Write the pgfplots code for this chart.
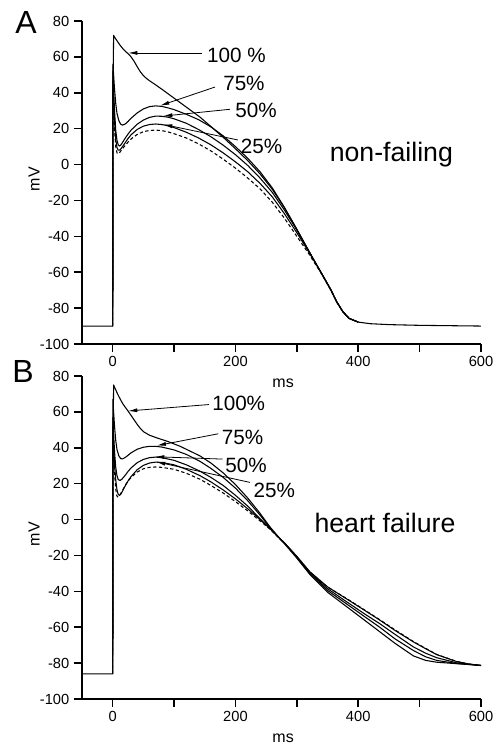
\documentclass[border=0pt]{standalone}
\usepackage{fontspec}
\setmainfont{Liberation Sans}
\usepackage{pgfplots}
\pgfplotsset{compat=1.18}
\usetikzlibrary{arrows.meta}

\pgfplotsset{
 apstyle/.style={
  scale only axis, width=299.25pt, height=242.25pt,
  xmin=-50, xmax=600, ymin=-100, ymax=80,
  axis x line*=bottom, axis y line*=left,
  axis line style={line width=1.1pt},
  tick align=outside, major tick length=6pt,
  every tick/.style={line width=1.1pt, black},
  xtick={0,100,...,600}, xticklabels={0,,200,,400,,600},
  ytick={-100,-80,...,80},
  tick label style={font=\fontsize{11}{13}\selectfont},
  /pgf/number format/assume math mode=true,
  xlabel={ms}, ylabel={mV},
  label style={font=\fontsize{12}{14}\selectfont},
  xlabel style={at={(axis description cs:0.504,-0.121)}, anchor=center},
  ylabel style={at={(axis description cs:-0.120,0.51)}, anchor=center},
  clip=false,
 },
}
\tikzset{
 cur/.style={black, line width=0.8pt, line join=round},
 lab/.style={font=\fontsize{15.5}{18}\selectfont, anchor=west, inner sep=0pt},
 arr/.style={-{Latex[length=7pt,width=3pt]}, line width=0.6pt},
 dsh/.style={cur, dash pattern=on 2.5pt off 1.8pt},
}

\begin{document}
\begin{tikzpicture}
\useasboundingbox (0,0) rectangle (375pt,558pt);

% ---------------- Panel A: non-failing ----------------
\begin{axis}[apstyle, at={(61.5pt,300pt)}, anchor=south west]
% 100 %
\addplot[cur] coordinates {(-50,-90)(0,-90)(0.5,40)(1.5,72)(4,70.5)(8,68.5)(12,66.5)(16,64.8)(20,63.3)(25,61.8)(30,60)(35,57.5)(40,54.5)(45,51.7)(50,49.6)(55,48)(60,46.7)(70,44.4)(80,42)(100,37)(120,32)(142,26.5)(160,21.2)(180,15.2)(200,8.8)(220,2.2)(240,-5.2)(260,-13.8)(280,-24.2)(300,-36.2)(320,-48.5)(340,-60.5)(355,-69.5)(365,-76.5)(375,-82)(385,-85.7)(400,-87.8)(420,-88.7)(450,-89.2)(500,-89.6)(600,-90)};
% 75 %
\addplot[cur] coordinates {(0,-90)(0.3,56)(1.5,50)(3,42)(5,34)(7,28.5)(10,24.5)(13,22.5)(16,22)(20,22.5)(25,24)(30,25.8)(40,28.8)(50,31)(60,32.3)(70,32.7)(80,32.4)(90,31.6)(100,30.6)(120,28)(140,25)(160,21)(180,16)(200,10)(220,3.5)(240,-4)(260,-13)(280,-24)(300,-36)(320,-48.5)(340,-60.5)(355,-69.5)(365,-76.5)(375,-82)(385,-85.7)(400,-87.8)};
% 50 %
\addplot[cur] coordinates {(0,-90)(0.3,52)(1.5,42)(3,30)(5,19)(7,13.5)(9,11)(11,10.3)(13,10.8)(16,12.3)(20,14.5)(25,17)(30,19.2)(40,22.5)(50,24.8)(60,26.3)(70,27)(80,26.9)(90,26.4)(100,25.5)(120,23)(140,19.5)(160,15.5)(180,10.8)(200,5.5)(220,-0.5)(240,-7.5)(260,-15.5)(280,-25.5)(300,-36.5)(320,-48.5)(340,-60.5)(355,-69.5)(365,-76.5)(375,-82)(385,-85.7)(400,-87.8)};
% 25 %
\addplot[cur] coordinates {(0,-90)(0.3,47)(1.5,37)(3,25)(5,14)(7,9.5)(9,8)(11,8)(13,8.6)(16,10)(20,12)(25,14.5)(30,16.6)(40,19.6)(50,21.4)(60,22.3)(70,22.6)(80,22.3)(90,21.6)(100,20.6)(120,18)(140,14.8)(160,11)(180,6.5)(200,1.5)(220,-4)(240,-10.5)(260,-18)(280,-27.5)(300,-38)(320,-49)(340,-60.5)(355,-69.5)(365,-76.5)(375,-82)(385,-85.7)(400,-87.8)};
% control (dashed)
\addplot[dsh] coordinates {(0,-90)(0.3,42)(1.5,32)(3,20)(5,10)(7,6.5)(9,6)(11,6.5)(14,8)(20,10.5)(25,12.5)(30,14.3)(40,16.8)(50,18.3)(60,19)(70,19.2)(80,18.9)(90,18.2)(100,17.2)(120,14.8)(140,11.5)(160,7.6)(180,3)(200,-2)(220,-7.5)(240,-13.5)(260,-21)(280,-30)(300,-40)(320,-50)(340,-60.8)(355,-69.8)(365,-76.7)(375,-82)(385,-85.7)(400,-87.8)};
\draw[arr] (axis cs:145.5,62.2) -- (axis cs:25,62.2);
\node[lab] at (axis cs:153.6,61) {100 \%};
\draw[arr] (axis cs:166.7,43.2) -- (axis cs:77,32.8);
\node[lab] at (axis cs:179.7,45.4) {75\%};
\draw[arr] (axis cs:191,30.8) -- (axis cs:82,27);
\node[lab] at (axis cs:199.3,30) {50\%};
\draw[arr] (axis cs:204,13.7) -- (axis cs:82,22.4);
\node[lab] at (axis cs:208.5,10.3) {25\%};
\node[font=\fontsize{20}{24}\selectfont] at (axis cs:454,5.3) {non-failing};
\node[font=\fontsize{24}{28}\selectfont] at (axis cs:-141,79.4) {A};
\end{axis}

% ---------------- Panel B: heart failure ----------------
\begin{axis}[apstyle, at={(61.5pt,33.75pt)}, anchor=south west]
% 100 %
\addplot[cur] coordinates {(-50,-86)(0,-86)(0.5,40)(1.5,75)(4,73)(8,70)(12,67.3)(16,64.8)(20,62.8)(25,60.5)(30,58)(35,55.5)(40,53)(45,50.8)(50,49)(60,47)(72,45.5)(90,43.5)(110,40.8)(130,37.5)(142,35.5)(160,31.5)(180,26)(200,19.5)(220,12)(240,3.5)(256,-4)(272,-10.5)(280,-13.5)(300,-21.5)(321,-30.5)(350,-40.5)(381,-48.5)(410,-56)(435,-62.5)(460,-69)(490,-76)(510,-78.5)(528,-79.5)(560,-80.3)(600,-81.3)};
% 75 %
\addplot[cur] coordinates {(0,-86)(0.3,67)(1.5,60)(3,52)(5,44)(7,39)(10,35.5)(13,34)(16,33.8)(20,34.5)(25,35.8)(30,37.2)(40,39.2)(50,40.3)(60,40.8)(70,40.8)(80,40.4)(100,38.8)(120,36.3)(142,32.5)(160,28.5)(180,23.5)(200,17.5)(220,10.5)(240,2.5)(256,-4.5)(272,-10.5)(280,-13.3)(300,-21)(321,-30)(350,-39.5)(381,-47)(410,-54)(435,-60)(460,-66.5)(490,-73)(510,-76.5)(528,-78.5)(560,-80.2)(600,-81.3)};
% 50 %
\addplot[cur] coordinates {(0,-86)(0.3,57)(1.5,48)(3,38)(5,29)(7,24.5)(9,22.3)(12,21.8)(15,22.5)(20,24.5)(25,26.8)(30,28.8)(40,31.7)(50,33.5)(60,34.5)(70,34.8)(80,34.5)(100,33)(120,30.5)(142,27)(160,23.5)(180,19)(200,13.5)(220,7.5)(240,0.5)(256,-5)(272,-10.5)(280,-13.2)(300,-20.8)(321,-29.5)(350,-38.5)(381,-45.8)(410,-52.5)(435,-58)(460,-64)(490,-71)(510,-74.5)(528,-77)(560,-79.8)(600,-81.3)};
% 25 %
\addplot[cur] coordinates {(0,-86)(0.3,52)(1.5,42)(3,31)(5,22)(7,16.5)(9,14)(11,13.5)(13,14)(16,15.8)(20,18.5)(25,21.5)(30,24)(40,27.8)(50,30.2)(60,31.5)(70,32)(80,31.8)(100,30.5)(120,28)(142,24.5)(160,21)(180,16.5)(200,11.5)(220,6)(240,0)(256,-5)(272,-10.5)(280,-13)(300,-20.5)(321,-29)(350,-37.5)(381,-44.2)(410,-50.5)(435,-56)(460,-61.8)(490,-68.2)(510,-72)(528,-75.3)(560,-79.1)(580,-80.5)(600,-81.3)};
% control (dashed)
\addplot[dsh] coordinates {(0,-86)(0.3,47)(1.5,37)(3,26)(5,17)(6.5,13.5)(8,12.6)(10,13)(13,14.5)(16,16.3)(20,18.8)(25,21.5)(30,23.5)(40,26.5)(50,28.3)(60,29.1)(70,29.3)(80,29.1)(100,28)(120,25.8)(142,22.5)(160,19)(180,14.8)(200,10)(220,4.8)(240,-0.7)(256,-5.3)(272,-10.7)(280,-13.2)(300,-20.6)(321,-29.2)(350,-37.6)(381,-44)(410,-50.3)(435,-55.8)(460,-61.5)(490,-68)(510,-71.8)(528,-75.2)(560,-79)(580,-80.5)(600,-81.4)};
\draw[arr] (axis cs:156.9,64.1) -- (axis cs:25,60.5);
\node[lab] at (axis cs:161.8,64.6) {100\%};
\draw[arr] (axis cs:172,47.8) -- (axis cs:71.7,41.2);
\node[lab] at (axis cs:177.6,45.9) {75\%};
\draw[arr] (axis cs:179,33.7) -- (axis cs:68.9,35);
\node[lab] at (axis cs:183,30.2) {50\%};
\draw[arr] (axis cs:223.7,20.7) -- (axis cs:70.5,32.2);
\node[lab] at (axis cs:229,16.3) {25\%};
\node[font=\fontsize{20}{24}\selectfont] at (axis cs:443.6,-2) {heart failure};
\node[font=\fontsize{24}{28}\selectfont] at (axis cs:-146,82.7) {B};
\end{axis}
\end{tikzpicture}
\end{document}
